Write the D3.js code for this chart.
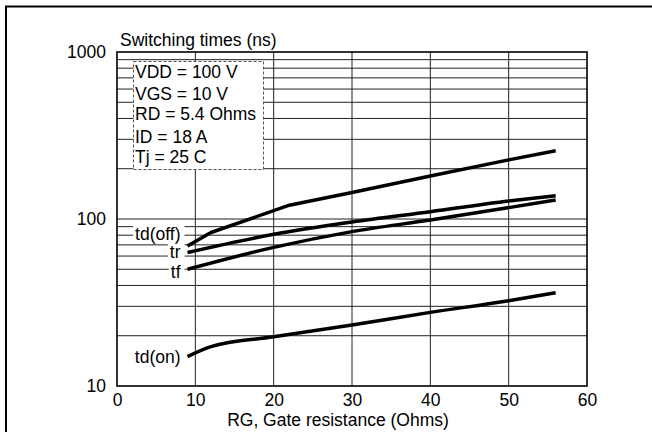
<html>
<head>
    <script src='https://cdnjs.cloudflare.com/ajax/libs/d3/7.8.5/d3.min.js'></script>
    <style>
        body { margin: 0; background: #fff; }
        text { font-family: 'Liberation Sans', Arial, sans-serif; font-size: 17.5px; fill: #000; }
    </style>
</head>
<body>
</body>

<script>
    // values
    var rgOff = [9, 12, 22, 30, 40, 50, 56];
    var tdOff = [69, 83, 121, 144, 181, 226, 256];
    var rgTr = [9, 20, 30, 40, 50, 56];
    var tr = [63, 81, 96, 110.6, 128, 138];
    var rgTf = [9, 20, 30, 40, 50, 56];
    var tf = [50, 67.6, 84, 98.6, 117, 130];
    var rgOn = [9, 12, 20, 30, 40, 50, 56];
    var tdOn = [15, 17.2, 19.7, 23.2, 27.6, 32.4, 36.2];

    var seriesNames = ['td(off)', 'tr', 'tf', 'td(on)'];
    var xTicks = [0, 10, 20, 30, 40, 50, 60];
    var yTicks = [10, 100, 1000];
    var yMinor = [20, 30, 40, 50, 60, 70, 80, 90, 100, 200, 300, 400, 500, 600, 700, 800, 900];
    var conditions = ['VDD = 100 V', 'VGS = 10 V', 'RD = 5.4 Ohms', 'ID = 18 A', 'Tj = 25 C'];

    var width = 652, height = 432;
    var svg = d3.select('body').append('svg')
                               .attr('width', width).attr('height', height);

    // outer frame, only left and top edges show
    svg.append('line').attr('x1', 6).attr('x2', 6).attr('y1', 6).attr('y2', height)
       .attr('stroke', '#000').attr('stroke-width', 2);
    svg.append('line').attr('x1', 5).attr('x2', width).attr('y1', 6.5).attr('y2', 6.5)
       .attr('stroke', '#000').attr('stroke-width', 2);

    var x = d3.scaleLinear().domain([0, 60]).range([117, 587]);
    var y = d3.scaleLog().domain([10, 1000]).range([386, 52]);

    var grid = svg.append('g').attr('stroke', '#222').attr('stroke-width', 1);
    grid.selectAll('.h').data(yMinor).enter().append('line')
        .attr('x1', x(0)).attr('x2', x(60))
        .attr('y1', function (d) { return y(d); }).attr('y2', function (d) { return y(d); });
    grid.selectAll('.v').data(xTicks.slice(1, -1)).enter().append('line')
        .attr('y1', y(10)).attr('y2', y(1000))
        .attr('x1', function (d) { return x(d); }).attr('x2', function (d) { return x(d); });

    svg.append('rect').attr('x', x(0)).attr('y', y(1000))
       .attr('width', x(60) - x(0)).attr('height', y(10) - y(1000))
       .attr('fill', 'none').attr('stroke', '#000').attr('stroke-width', 1.6);

    var xAxis = svg.append('g').attr('transform', 'translate(0,' + y(10) + ')')
                   .call(d3.axisBottom(x).tickValues(xTicks).tickSize(0).tickPadding(8));
    var yAxis = svg.append('g').attr('transform', 'translate(' + x(0) + ',0)')
                   .call(d3.axisLeft(y).tickValues(yTicks).tickSize(0).tickPadding(11)
                                       .tickFormat(d3.format('d')));
    [xAxis, yAxis].forEach(function (a) {
        a.select('.domain').remove();
        a.attr('font-size', null).attr('font-family', null);
        a.selectAll('text').style('font-size', '17.5px');
    });

    svg.append('text').attr('x', 120).attr('y', 46).text('Switching times (ns)');
    svg.append('text').attr('x', 338).attr('y', 426).attr('text-anchor', 'middle')
       .text('RG, Gate resistance (Ohms)');

    // conditions box
    svg.append('rect').attr('x', 133.5).attr('y', 61.5).attr('width', 130).attr('height', 108)
       .attr('fill', '#fff').attr('stroke', '#555').attr('stroke-dasharray', '3,2');
    var condY = [78, 100, 120, 143, 163];
    svg.selectAll('.cond').data(conditions).enter().append('text')
       .attr('x', 135).attr('y', function (d, i) { return condY[i]; })
       .text(function (d) { return d; });

    var series = [
        {name: seriesNames[0], xs: rgOff, ys: tdOff, dy: -6, curve: d3.curveLinear},
        {name: seriesNames[1], xs: rgTr, ys: tr, dy: 5.5, curve: d3.curveMonotoneX},
        {name: seriesNames[2], xs: rgTf, ys: tf, dy: 8.5, curve: d3.curveMonotoneX},
        {name: seriesNames[3], xs: rgOn, ys: tdOn, dy: 6, curve: d3.curveMonotoneX}
    ];

    series.forEach(function (s) {
        var line = d3.line()
                     .x(function (d) { return x(d[0]); })
                     .y(function (d) { return y(d[1]); })
                     .curve(s.curve);
        var pts = s.xs.map(function (v, i) { return [v, s.ys[i]]; });
        svg.append('path').attr('d', line(pts))
           .attr('fill', 'none').attr('stroke', '#000').attr('stroke-width', 3.5)
           .attr('stroke-linejoin', 'round');

        var lx = x(s.xs[0]) - 7, ly = y(s.ys[0]) + s.dy;
        var lbl = svg.append('text').attr('x', lx).attr('y', ly)
                     .attr('text-anchor', 'end').text(s.name);
        var bb = lbl.node().getBBox();
        svg.insert('rect', function () { return lbl.node(); })
           .attr('x', bb.x - 2).attr('y', bb.y + 2)
           .attr('width', bb.width + 6).attr('height', bb.height - 4)
           .attr('fill', '#fff');
    });
</script>
</html>
